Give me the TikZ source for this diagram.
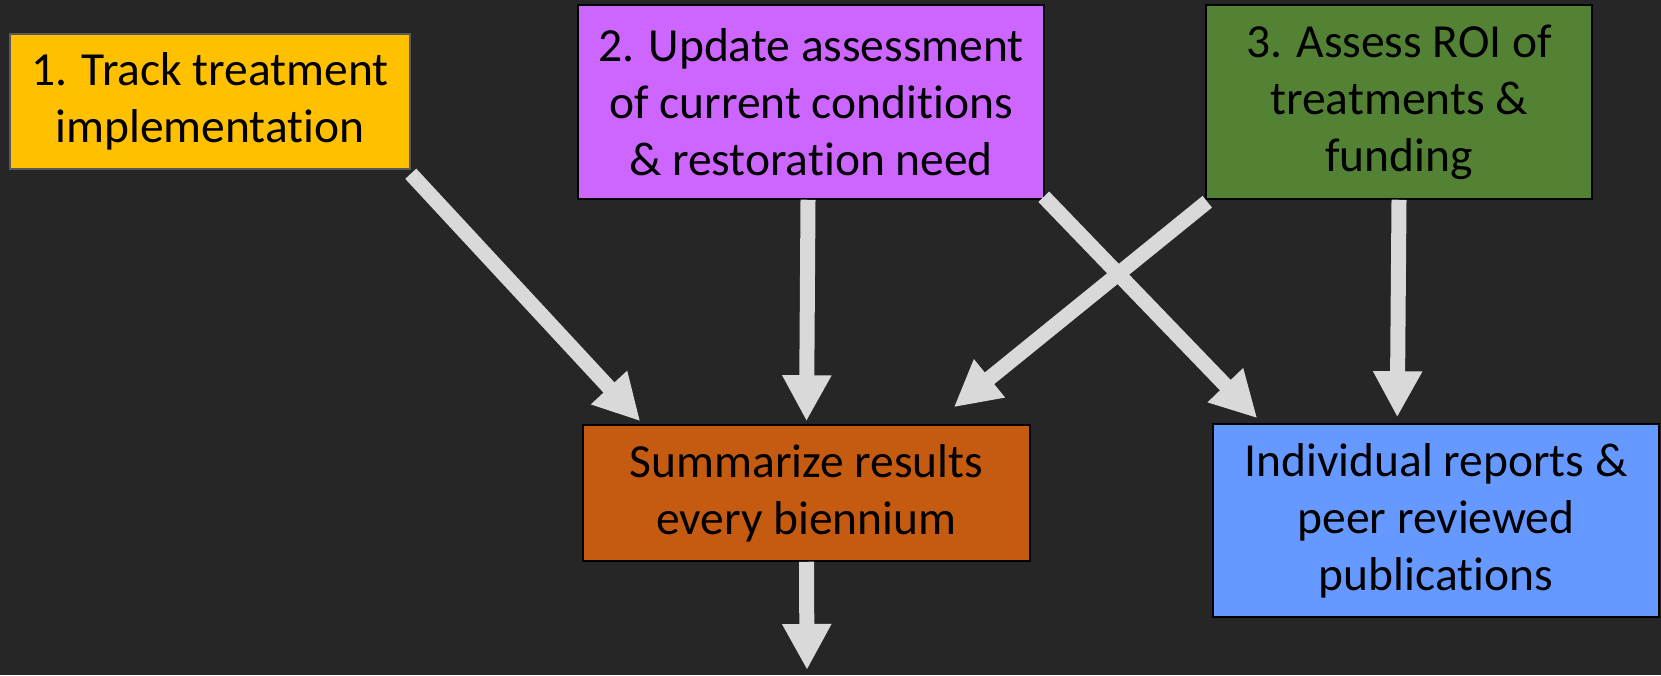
\documentclass[tikz,border=0pt]{standalone}
\usepackage{fontspec}
\setmainfont[Ligatures={NoCommon}]{Carlito}
\usetikzlibrary{arrows.meta,calc}
\definecolor{bg}{HTML}{262626}
\definecolor{cyellow}{HTML}{FFC000}
\definecolor{cpurple}{HTML}{CC66FF}
\definecolor{cgreen}{HTML}{548235}
\definecolor{corange}{HTML}{C55A11}
\definecolor{cblue}{HTML}{6699FF}
\definecolor{carrow}{HTML}{D9D9D9}
\definecolor{cgreyline}{HTML}{595959}
\tikzset{
  box/.style={draw=black, line width=1.5pt, inner sep=0pt, align=center,
    font=\fontsize{47.5}{57}\selectfont, text=black},
  conn/.style={carrow, line width=15pt,
    -{Triangle[width=46pt,length=46pt]}},
}
\begin{document}
\begin{tikzpicture}[x=1pt,y=-1pt]
\fill[bg] (0,0) rectangle (1661,675);
\useasboundingbox (0,0) rectangle (1661,675);
\node[box, draw=cgreyline, fill=cyellow, minimum width=400pt, minimum height=135pt] (b1) at (210,101.5)
  {1. Track treatment\\implementation};
\node[box, fill=cpurple, minimum width=466pt, minimum height=194pt] (b2) at (811,102)
  {2. Update assessment\\of current conditions\\\& restoration need};
\node[box, fill=cgreen, minimum width=386pt, minimum height=194pt] (b3) at (1399,102)
  {3. Assess ROI of\\treatments \&\\funding};
\node[box, fill=corange, minimum width=447pt, minimum height=136pt] (s) at (806.5,493)
  {Summarize results\\every biennium};
\node[box, fill=cblue, minimum width=446pt, minimum height=193pt] (r) at (1436,520.5)
  {Individual reports \&\\peer reviewed\\publications};
\coordinate (out) at (807,670);
\draw[conn] ($(b1.south east)+(0,4)$) -- ($(s.north west)+(58,-3)$);
\draw[conn] ([xshift=-3pt]b2.south) -- ($(s.north)+(0,-3)$);
\draw[conn] ($(b3.south west)+(2,2)$) -- ($(s.north east)+(-77,-17)$);
\draw[conn] ($(b2.south east)+(-1,-3)$) -- ($(r.north west)+(45,-5)$);
\draw[conn] (b3.south) -- ($(r.north west)+(185,-6)$);
\draw[conn] (s.south) -- (out);
\end{tikzpicture}
\end{document}
